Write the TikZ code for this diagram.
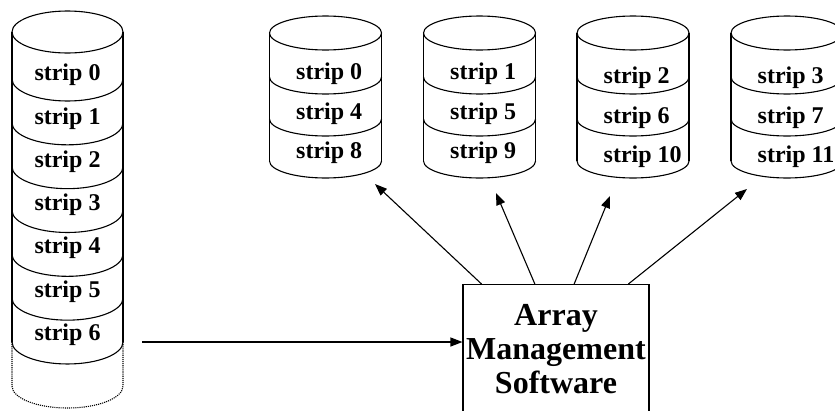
\documentclass[tikz,border=0pt]{standalone}
\usepackage{fontspec}
\setmainfont{Liberation Serif}
\usetikzlibrary{arrows.meta,calc}

\tikzset{
  outline/.style={line width=1.1pt, black},
  faint/.style={line width=1.1pt, densely dotted, black},
  striplabel/.style={font=\fontsize{24}{26}\selectfont\bfseries, inner sep=0pt},
  amsbox/.style={draw, line width=1.1pt, minimum width=186pt, minimum height=160pt, inner sep=0pt},
  amstext/.style={font=\fontsize{32}{34}\selectfont\bfseries, align=center, inner sep=0pt},
  feed/.style={line width=1.1pt, -{Triangle[length=12pt,width=9pt]}},
}

% one stacked drum: #1 centre x, #2 half width, #3 top-ellipse centre y,
% #4 half height of the ellipses, #5 list of separator levels (last = bottom)
\newcommand{\drumstack}[5]{%
  \draw[outline] (#1,-#3) ellipse [x radius=#2pt, y radius=#4pt];
  \foreach \s [remember=\s as \last (initially #3)] in {#5} {
    \draw[outline] (#1-#2,-\s) arc[start angle=180, end angle=360, x radius=#2pt, y radius=#4pt];
  }
}

\begin{document}
\begin{tikzpicture}[x=1pt,y=1pt]
  \useasboundingbox (0,0) rectangle (835,-410);
  \clip (0,0) rectangle (835,-410);

  % ---- single large disk on the left ----
  \draw[outline] (67.5,-32) ellipse [x radius=55.5pt, y radius=21pt];
  \draw[outline] (12,-32) -- (12,-342);
  \draw[outline] (123,-32) -- (123,-342);
  \foreach \k in {0,...,6} {
    \pgfmathsetmacro{\sy}{79+43.83*\k}
    \draw[outline] (12,-\sy) arc[start angle=180, end angle=360, x radius=55.5pt, y radius=22pt];
    \pgfmathsetmacro{\ty}{75+43.3*\k}
    \node[striplabel] (big\k) at (67.5,-\ty) {strip \k};
  }
  \draw[faint] (12,-342) -- (12,-386) arc[start angle=180, end angle=360, x radius=55.5pt, y radius=22pt] -- (123,-342);

  % ---- four array disks ----
  \foreach \cx/\ta/\tb/\tc/\dy [count=\d from 0] in
      {325.5/0/4/8/0, 479.5/1/5/9/0, 633/2/6/10/4, 787/3/7/11/4} {
    \draw[outline] (\cx,-33) ellipse [x radius=56pt, y radius=17pt];
    \draw[outline] (\cx-56,-33) -- (\cx-56,-161);
    \draw[outline] (\cx+56,-33) -- (\cx+56,-161);
    \foreach \sy in {77,119,161} {
      \draw[outline] (\cx-56,-\sy) arc[start angle=180, end angle=360, x radius=56pt, y radius=17pt];
    }
    \node[striplabel, anchor=west] (d\d a) at (\cx-29.5,-74-\dy) {strip \ta};
    \node[striplabel, anchor=west] (d\d b) at (\cx-29.5,-113.5-\dy) {strip \tb};
    \node[striplabel, anchor=west] (d\d c) at (\cx-29.5,-153-\dy) {strip \tc};
  }

  % ---- array management software ----
  \node[amsbox, anchor=north] (ams) at (556,-284) {};
  \node[amstext] (amslabel) at (556,-349) {Array\\Management\\Software};

  % ---- connectors ----
  \coordinate (src) at (142,-342);
  \draw[feed] (src) -- (src -| ams.west);

  \coordinate (t1) at (375,-184);
  \coordinate (t2) at (496,-193);
  \coordinate (t3) at (610,-196);
  \coordinate (t4) at (747,-189);
  \draw[feed] ($(ams.north west)!0.102!(ams.north east)$) -- (t1);
  \draw[feed] ($(ams.north west)!0.387!(ams.north east)$) -- (t2);
  \draw[feed] ($(ams.north west)!0.597!(ams.north east)$) -- (t3);
  \draw[feed] ($(ams.north west)!0.887!(ams.north east)$) -- (t4);
\end{tikzpicture}
\end{document}
